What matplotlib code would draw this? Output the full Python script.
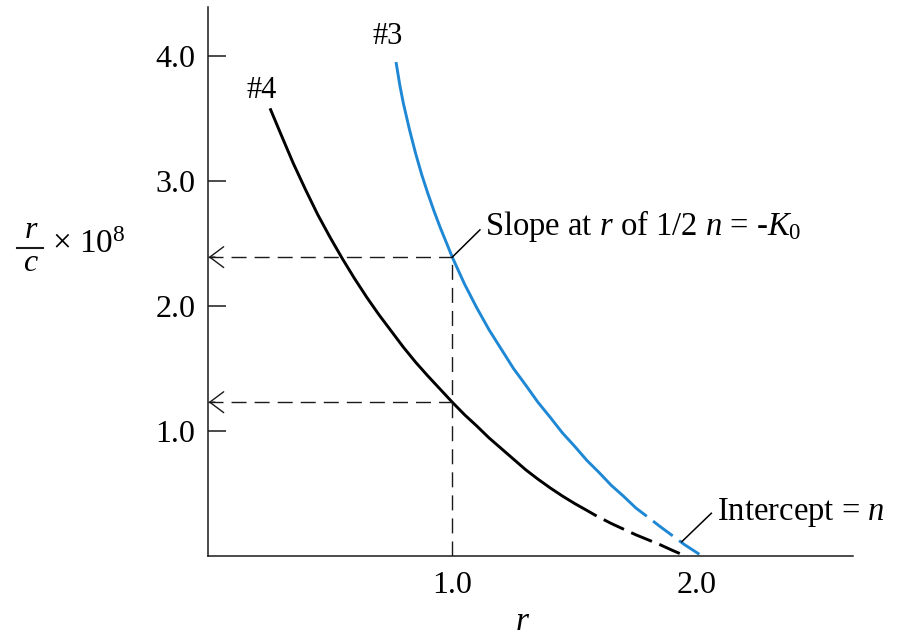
import matplotlib
matplotlib.use("Agg")
import matplotlib.pyplot as plt
from matplotlib.lines import Line2D

plt.rcParams["font.family"] = ["Liberation Serif", "DejaVu Serif"]
plt.rcParams["mathtext.fontset"] = "custom"
plt.rcParams["mathtext.rm"] = "Liberation Serif"
plt.rcParams["mathtext.it"] = "Liberation Serif:italic"
plt.rcParams["mathtext.bf"] = "Liberation Serif:bold"

# Curve #3 (blue): measured part and extrapolation to the intercept
r3 = [0.770, 0.786, 0.80, 0.825, 0.85, 0.875, 0.90, 0.925, 0.95, 0.975, 1.00,
      1.05, 1.10, 1.15, 1.20, 1.25, 1.30, 1.35, 1.40, 1.45, 1.50, 1.55, 1.60,
      1.65, 1.70, 1.75, 1.795]
rc3 = [3.95, 3.76, 3.62, 3.41, 3.22, 3.05, 2.90, 2.76, 2.63, 2.51, 2.39,
       2.175, 1.985, 1.81, 1.655, 1.50, 1.367, 1.23, 1.11, 0.985, 0.878, 0.765, 0.668,
       0.565, 0.478, 0.385, 0.318]
r3_ext = [1.795, 1.85, 1.90, 1.95, 2.013]
rc3_ext = [0.318, 0.235, 0.163, 0.09, 0.01]

# Curve #4 (black): measured part and extrapolation to the intercept
r4 = [0.255, 0.30, 0.35, 0.40, 0.45, 0.50, 0.55, 0.60, 0.65, 0.70, 0.75, 0.80,
      0.85, 0.90, 0.95, 1.00, 1.05, 1.10, 1.15, 1.20, 1.25, 1.30, 1.35, 1.40,
      1.45, 1.50, 1.55, 1.59]
rc4 = [3.58, 3.37, 3.14, 2.93, 2.73, 2.55, 2.38, 2.22, 2.07, 1.93, 1.80, 1.67,
       1.55, 1.44, 1.335, 1.23, 1.13, 1.04, 0.945, 0.86, 0.775, 0.69, 0.615, 0.545,
       0.48, 0.42, 0.365, 0.32]
r4_ext = [1.59, 1.65, 1.70, 1.75, 1.80, 1.85, 1.90, 1.93]
rc4_ext = [0.32, 0.26, 0.215, 0.17, 0.13, 0.09, 0.045, 0.02]

# Reading point at r = 1.0
r_read = 1.0
rc3_read = 2.39
rc4_read = 1.23

xticks = [1.0, 2.0]
xtick_labels = ["1.0", "2.0"]
yticks = [1.0, 2.0, 3.0, 4.0]
ytick_labels = ["1.0", "2.0", "3.0", "4.0"]

blue = "#1f88d5"
ink = "#1a1a1a"

fig = plt.figure(figsize=(9.08, 6.38), dpi=100)
ax = fig.add_axes([0.2287, 0.1285, 0.9394 - 0.2287, 0.989 - 0.1285])
ax.set_xlim(0, 2.638)
ax.set_ylim(0, 4.39)

for s in ("top", "right"):
    ax.spines[s].set_visible(False)
for s in ("left", "bottom"):
    ax.spines[s].set_linewidth(1.1)
    ax.spines[s].set_color(ink)

ax.set_xticks(xticks)
ax.set_xticklabels(xtick_labels, fontsize=23)
ax.set_yticks(yticks)
ax.set_yticklabels(ytick_labels, fontsize=23)
ax.tick_params(axis="x", length=0, pad=11)
ax.tick_params(axis="y", direction="in", length=13, width=1.1, pad=9, color=ink)

# curves: solid measured part, dashed extrapolation (starting with a gap)
lw = 2.1
ax.plot(r3, rc3, color=blue, lw=lw, solid_capstyle="butt", solid_joinstyle="round")
ax.plot(r3_ext, rc3_ext, color=blue, lw=lw, linestyle=(8.4, (8.4, 2.74)),
        dash_capstyle="butt")
ax.plot(r4, rc4, color="black", lw=lw, solid_capstyle="butt", solid_joinstyle="round")
ax.plot(r4_ext, rc4_ext, color="black", lw=lw, linestyle=(7.7, (7.7, 2.74)),
        dash_capstyle="butt")

# dashed reading guides
gkw = dict(color=ink, lw=1.0, linestyle=(0, (10.8, 5.8)))
ax.plot([r_read, r_read], [0, rc3_read], **gkw)
ax.plot([0, r_read], [rc3_read, rc3_read], **gkw)
ax.plot([0, r_read], [rc4_read, rc4_read], **gkw)
for yv in (rc3_read, rc4_read):
    ax.annotate("", xy=(0.004, yv), xytext=(0.03, yv),
                arrowprops=dict(arrowstyle="->,head_length=1.0,head_width=0.75",
                                lw=1.0, color=ink, shrinkA=0, shrinkB=0))

# curve labels
fig.text(388 / 908, 1 - 36 / 638, "#3", fontsize=22, ha="center", va="center")
fig.text(262 / 908, 1 - 90 / 638, "#4", fontsize=22, ha="center", va="center")

# annotations
ax.plot([1.0, 1.113], [2.39, 2.608], color="black", lw=1.1)
ax.text(1.134, 2.568, r"Slope at $r$ of 1/2 $n$ = -$K_{\mathit{0}}$", fontsize=23.5,
        ha="left", va="baseline")
ax.plot([1.938, 2.059], [0.114, 0.342], color="black", lw=1.1)
ax.text(2.081, 0.288, r"Intercept = $n$", fontsize=23.5, ha="left", va="baseline")

# axis labels
fig.text(523 / 908, 1 - 630 / 638, r"$r$", fontsize=24, ha="center", va="baseline")
fig.text(31 / 908, 1 - 238 / 638, r"$r$", fontsize=23, ha="center", va="baseline")
fig.text(31 / 908, 1 - 271 / 638, r"$c$", fontsize=23, ha="center", va="baseline")
fig.add_artist(Line2D([17 / 908, 43 / 908], [1 - 248 / 638, 1 - 248 / 638],
                      color=ink, lw=1.5, transform=fig.transFigure))
fig.text(52 / 908, 1 - 253 / 638, r"$\times$ 10$^{8}$", fontsize=24, ha="left",
         va="baseline")

fig.savefig("out.png", dpi=100)
